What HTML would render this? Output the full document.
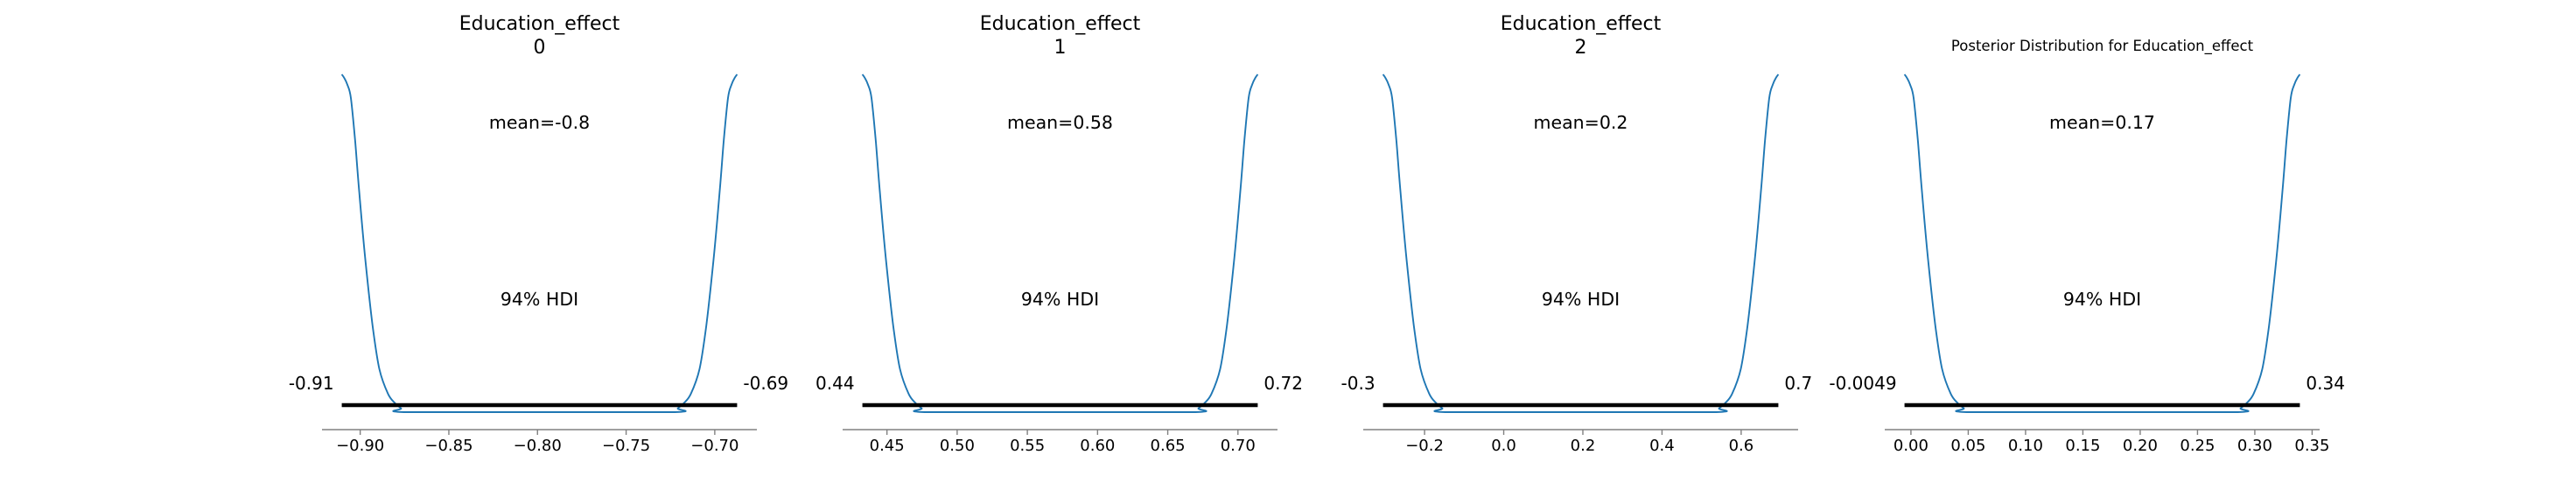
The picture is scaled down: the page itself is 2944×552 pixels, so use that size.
<!DOCTYPE html>
<html><head><meta charset="utf-8">
<style>
html,body{margin:0;padding:0;background:#fff;}
svg{display:block;font-family:"DejaVu Sans","Liberation Sans",sans-serif;}
</style></head>
<body>
<svg id="chart" width="2944" height="552" viewBox="0 0 2944 552" xmlns="http://www.w3.org/2000/svg"></svg>
<script>
const panelTitles = ["Education_effect\n0", "Education_effect\n1", "Education_effect\n2", "Posterior Distribution for Education_effect"];
const meanValues = ["-0.8", "0.58", "0.2", "0.17"];
const hdiLow = [-0.9104, 0.4325, -0.305, -0.0056];
const hdiHigh = [-0.6874, 0.7141, 0.694, 0.3393];
const hdiLowLabels = ["-0.91", "0.44", "-0.3", "-0.0049"];
const hdiHighLabels = ["-0.69", "0.72", "0.7", "0.34"];
const tickValues = [
  [-0.90, -0.85, -0.80, -0.75, -0.70],
  [0.45, 0.50, 0.55, 0.60, 0.65, 0.70],
  [-0.2, 0.0, 0.2, 0.4, 0.6],
  [0.00, 0.05, 0.10, 0.15, 0.20, 0.25, 0.30, 0.35]
];
const tickLabels = [
  ["\u22120.90", "\u22120.85", "\u22120.80", "\u22120.75", "\u22120.70"],
  ["0.45", "0.50", "0.55", "0.60", "0.65", "0.70"],
  ["\u22120.2", "0.0", "0.2", "0.4", "0.6"],
  ["0.00", "0.05", "0.10", "0.15", "0.20", "0.25", "0.30", "0.35"]
];
// KDE profile (fraction across sample range, relative density), left half; mirrored for right
const kdeFrac = [0, 0.006, 0.014, 0.023, 0.034, 0.044, 0.060, 0.078, 0.095, 0.117, 0.136, 0.150, 0.157, 0.5];
const kdeDensity = [1, 0.99, 0.97, 0.93, 0.80, 0.654, 0.447, 0.256, 0.128, 0.054, 0.025, 0.011, 0, 0];

// layout
const axLeft = [368, 963, 1558, 2154];
const axWidth = 497;
const yTop = 85, yBase = 471, yHdi = 463, yAxis = 491;

const NS = "http://www.w3.org/2000/svg";
const svg = document.getElementById("chart");
function mk(tag, attrs, parent) {
  const e = document.createElementNS(NS, tag);
  for (const k in attrs) e.setAttribute(k, attrs[k]);
  (parent || svg).appendChild(e);
  return e;
}
const clampY = y => Math.min(yBase, Math.max(yTop, y));

for (let p = 0; p < 4; p++) {
  const g = mk("g", {});
  
  
  const lo = hdiLow[p], hi = hdiHigh[p], pad = 0.05 * (hi - lo);
  const x0 = lo - pad, x1 = hi + pad;
  const L = axLeft[p], R = axLeft[p] + axWidth;
  const sx = v => L + (v - x0) / (x1 - x0) * (R - L);
  const sy = d => yBase - d * (yBase - yTop);
  const cx = (L + R) / 2;

  const lines = panelTitles[p].split("\n");
  if (p < 3) {
    lines.forEach((ln, i) => {
      const t = mk("text", {x: cx, y: 34 + i * 27, "text-anchor": "middle", "font-size": 22, fill: "#000"}, g);
      t.textContent = ln;
      
      
    });
  } else {
    const t = mk("text", {x: cx, y: 58, "text-anchor": "middle", "font-size": 16.5, fill: "#000"}, g);
    t.textContent = lines[0];
    
    
  }

  const pts = [];
  for (let i = 0; i < kdeFrac.length; i++) pts.push([sx(lo + kdeFrac[i] * (hi - lo)), sy(kdeDensity[i])]);
  for (let i = kdeFrac.length - 2; i >= 0; i--) pts.push([sx(lo + (1 - kdeFrac[i]) * (hi - lo)), sy(kdeDensity[i])]);
  let d = "M" + pts[0][0].toFixed(1) + "," + pts[0][1].toFixed(1);
  for (let i = 0; i < pts.length - 1; i++) {
    const a = pts[Math.max(0, i - 1)], b = pts[i], c = pts[i + 1], e = pts[Math.min(pts.length - 1, i + 2)];
    if (b[1] === c[1]) { d += " L" + c[0].toFixed(1) + "," + c[1].toFixed(1); continue; }
    const c1x = b[0] + (c[0] - a[0]) / 6, c1y = clampY(b[1] + (c[1] - a[1]) / 6);
    const c2x = c[0] - (e[0] - b[0]) / 6, c2y = clampY(c[1] - (e[1] - b[1]) / 6);
    d += " C" + c1x.toFixed(1) + "," + c1y.toFixed(1) + " " + c2x.toFixed(1) + "," + c2y.toFixed(1) + " " + c[0].toFixed(1) + "," + c[1].toFixed(1);
  }
  const path = mk("path", {d: d, fill: "none", stroke: "#1f77b4", "stroke-width": 1.9, "stroke-linejoin": "round"}, g);
  
  

  const bar = mk("line", {x1: sx(lo), x2: sx(hi), y1: yHdi, y2: yHdi, stroke: "#000", "stroke-width": 4.5}, g);
  
  

  const tl = mk("text", {x: sx(lo) - 9, y: 445, "text-anchor": "end", "font-size": 20}, g);
  tl.textContent = hdiLowLabels[p];
  
  
  const th = mk("text", {x: sx(hi) + 7, y: 445, "text-anchor": "start", "font-size": 20}, g);
  th.textContent = hdiHighLabels[p];
  
  

  const mt = mk("text", {x: cx, y: 147, "text-anchor": "middle", "font-size": 20.5}, g);
  mt.textContent = "mean=" + meanValues[p];
  
  
  const ht = mk("text", {x: cx, y: 349, "text-anchor": "middle", "font-size": 20.5}, g);
  ht.textContent = "94% HDI";
  
  

  const ax = mk("line", {x1: L, x2: R, y1: yAxis, y2: yAxis, stroke: "#808080", "stroke-width": 1.4}, g);
  
  
  tickValues[p].forEach((v, i) => {
    const x = sx(v);
    const tk = mk("line", {x1: x, x2: x, y1: yAxis, y2: yAxis + 6, stroke: "#808080", "stroke-width": 1.4}, g);
    
    
    const lb = mk("text", {x: x, y: 515, "text-anchor": "middle", "font-size": 18}, g);
    lb.textContent = tickLabels[p][i];
    
    
  });
}
</script>
</body></html>
